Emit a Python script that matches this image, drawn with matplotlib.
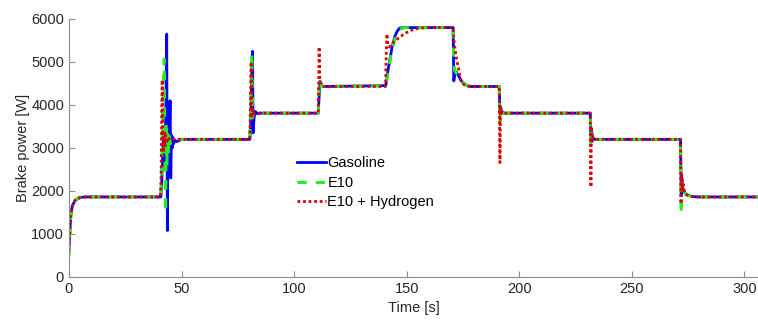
import matplotlib
matplotlib.use("Agg")
import matplotlib.pyplot as plt

# breakpoints (time [s], brake power [W])
t_gas = [0, 0.3, 0.8, 1.5, 2.5, 3.5, 5, 7, 40.8, 41.2, 41.6, 42.0, 42.5, 43.0, 43.4,
         43.7, 44.0, 44.3, 44.6, 44.9, 45.2, 45.5, 45.8, 46.1, 46.5, 47, 48, 50,
         80.3, 80.7, 81.1, 81.5, 81.8, 82.2, 82.7, 83.5, 85,
         110.7, 111.1, 111.5, 112.2, 113,
         140.7, 141.5, 142.5, 143.5, 144.7, 145.8, 146.9, 149,
         170.6, 170.9, 171.3, 172, 172.8, 174, 175, 176.5, 178,
         191.1, 191.4, 191.7, 192.1, 193,
         231.5, 231.8, 232.1, 232.6, 233,
         271.6, 271.9, 272.2, 272.5, 273, 274, 275, 276, 277.5, 280, 306]
p_gas = [700, 1000, 1450, 1650, 1760, 1810, 1845, 1860, 1860, 2200, 2800, 3300, 2600, 3800, 5650,
         1080, 3600, 2500, 3300, 4100, 2300, 3300, 3000, 3250, 3100, 3180, 3150, 3200,
         3200, 3500, 4500, 5250, 3350, 3700, 3850, 3800, 3810,
         3810, 4200, 4550, 4460, 4430,
         4450, 4750, 5050, 5350, 5590, 5720, 5790, 5800,
         5800, 4560, 4700, 4770, 4700, 4580, 4510, 4460, 4430,
         4430, 3800, 3950, 3850, 3810,
         3810, 3250, 3400, 3200, 3200,
         3200, 1900, 2300, 2100, 2000, 1930, 1900, 1880, 1865, 1860, 1860]

t_e10 = [0, 0.3, 0.8, 1.5, 2.5, 3.5, 5, 7, 40.8, 41.2, 41.6, 42.0, 42.3, 42.6, 42.9,
         43.2, 43.5, 43.8, 44.1, 44.5, 45, 46,
         80.3, 80.7, 81.2, 81.5, 82, 83,
         110.7, 111.0, 111.4, 112, 113,
         140.7, 141.5, 142.5, 143.5, 144.7, 145.8, 147, 149,
         170.6, 170.9, 171.3, 172, 172.8, 174, 175, 176.5, 178,
         191.1, 191.4, 191.7, 192.1, 193,
         231.5, 231.8, 232.1, 232.6, 233,
         271.6, 271.9, 272.2, 272.5, 273, 274, 275, 276, 277.5, 280, 306]
p_e10 = [480, 900, 1400, 1650, 1770, 1820, 1850, 1860, 1860, 2600, 3800, 4600, 5070, 3000, 1500,
         3600, 2600, 3400, 2900, 3300, 3100, 3200,
         3200, 4000, 5200, 3700, 3850, 3810,
         3810, 4300, 4600, 4450, 4430,
         4450, 4700, 5000, 5300, 5530, 5680, 5760, 5800,
         5800, 5000, 4800, 4740, 4700, 4590, 4520, 4460, 4430,
         4430, 3600, 3900, 3830, 3810,
         3810, 3000, 3350, 3220, 3200,
         3200, 1460, 2200, 2000, 1980, 1920, 1895, 1880, 1865, 1860, 1860]

t_h2 = [0, 0.3, 0.8, 1.5, 2.5, 3.5, 5, 7, 40.6, 40.9, 41.2, 41.4, 41.7, 42.0, 42.3,
        42.6, 42.9, 43.3, 44, 45, 46,
        80.3, 80.6, 80.9, 81.2, 81.6, 82.2, 83,
        110.7, 110.9, 111.1, 111.4, 112, 113,
        140.6, 140.9, 141.2, 141.6, 142.2, 143, 144, 145, 147, 149, 151, 153, 156, 160,
        170.6, 171.0, 171.5, 172.2, 172.8, 173.5, 174.3, 175.5, 176.5, 178,
        191.1, 191.4, 191.6, 191.9, 192.3, 193,
        231.5, 231.8, 232.0, 232.3, 232.7, 233.2,
        271.6, 271.8, 272.1, 272.4, 272.8, 273.5, 274, 275, 276, 277.5, 280, 306]
p_h2 = [600, 950, 1420, 1650, 1770, 1820, 1850, 1860, 1860, 2300, 3900, 4580, 3300, 2900, 3400,
        3000, 3300, 3100, 3250, 3180, 3200,
        3200, 4000, 5000, 3700, 3900, 3800, 3810,
        3810, 4500, 5350, 4600, 4480, 4430,
        4430, 5200, 5650, 5400, 5350, 5400, 5450, 5500, 5580, 5660, 5710, 5760, 5790, 5800,
        5800, 5500, 5280, 5050, 4890, 4700, 4540, 4470, 4450, 4430,
        4430, 2660, 3930, 3750, 3850, 3810,
        3810, 2090, 3500, 3150, 3250, 3200,
        3200, 1700, 2380, 2000, 2150, 1950, 1920, 1895, 1880, 1865, 1860, 1860]

plt.rcParams['font.family'] = ['Liberation Sans', 'DejaVu Sans']
plt.rcParams['font.size'] = 10.5

fig = plt.figure(figsize=(7.58, 3.22), dpi=100)
ax = fig.add_axes([0.091, 0.14, 0.909, 0.801])

ax.plot(t_gas, p_gas, color='#0000ff', lw=2.0, label='Gasoline')
ax.plot(t_e10, p_e10, color='#22ee22', lw=2.2, linestyle=(0, (3, 3)), label='E10')
ax.plot(t_h2, p_h2, color='#dd0000', lw=2.0, linestyle=(0, (1, 1)), label='E10 + Hydrogen')

ax.set_xlim(0, 306)
ax.set_ylim(0, 6000)
ax.set_xticks(range(0, 301, 50))
ax.set_yticks(range(0, 6001, 1000))
ax.set_xlabel('Time [s]', color='#262626')
ax.set_ylabel('Brake power [W]', color='#262626', labelpad=1)

for s in ['top', 'right']:
    ax.spines[s].set_visible(False)
for s in ['left', 'bottom']:
    ax.spines[s].set_color('#8c8c8c')
ax.tick_params(direction='in', length=4, color='#8c8c8c', labelcolor='#262626')

ax.legend(loc='upper left', bbox_to_anchor=(0.322, 0.49), frameon=False,
          handlelength=2.0, handletextpad=0.1, labelspacing=0.38, borderaxespad=0)

fig.savefig('out.png', dpi=100)
